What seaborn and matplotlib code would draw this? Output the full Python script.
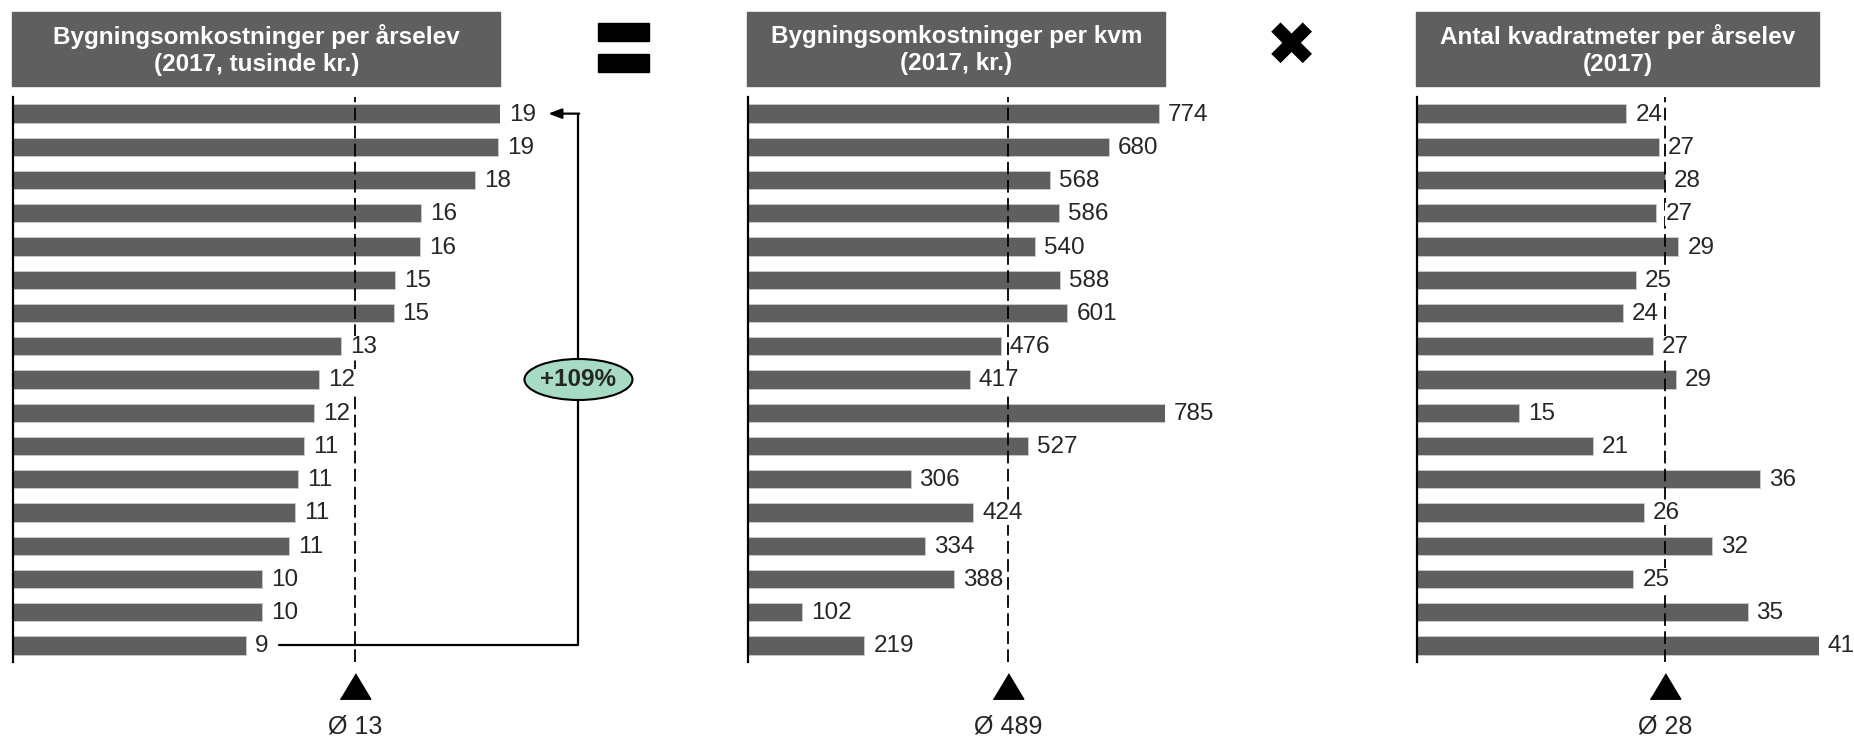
import numpy as np
import pandas as pd
import matplotlib
matplotlib.use("Agg")
import matplotlib.pyplot as plt
import matplotlib.transforms as mtransforms
from matplotlib.patches import Rectangle, Ellipse
import seaborn as sns

# schools, same order in all three panels (top to bottom)
cost_per_student = [18.62, 18.55, 17.67, 15.59, 15.55, 14.60, 14.55, 12.55, 11.70,
                    11.52, 11.12, 10.89, 10.80, 10.55, 9.53, 9.51, 8.90]   # tusinde kr.
cost_per_sqm = [774, 680, 568, 586, 540, 588, 601, 476, 417,
                785, 527, 306, 424, 334, 388, 102, 219]                   # kr.
sqm_per_student = [24.3, 27.1, 27.6, 26.9, 28.8, 25.1, 24.0, 26.6, 28.6,
                   15.0, 21.4, 35.9, 25.8, 31.7, 24.9, 34.8, 41.0]         # kvm
sqm_axis_start = 6.13

titles = ["Bygningsomkostninger per årselev\n(2017, tusinde kr.)",
          "Bygningsomkostninger per kvm\n(2017, kr.)",
          "Antal kvadratmeter per årselev\n(2017)"]

GREY = "#5f5f5f"
W, H = 1854, 738
AX_TOP, AX_BOT = 97, 662

sns.set_style("white")
plt.rcParams["font.family"] = ["Liberation Sans", "DejaVu Sans"]

fig = plt.figure(figsize=(W / 100, H / 100), dpi=100)


def box(x0, y0, x1, y1):
    # pixel box (origin top-left) -> figure fraction rect
    return [x0 / W, 1 - y1 / H, (x1 - x0) / W, (y1 - y0) / H]


panels = [
    (cost_per_student, titles[0], 13, 500, 0),
    (cost_per_sqm, titles[1], 748, 1165, 0),
    (sqm_per_student, titles[2], 1417, 1819, sqm_axis_start),
]
rank = [str(i) for i in range(len(cost_per_sqm))]
axes = []

for vals, title, x0, x1, xmin in panels:
    ax = fig.add_axes(box(x0, AX_TOP, x1, AX_BOT))
    df = pd.DataFrame({"rank": rank, "value": vals})
    sns.barplot(data=df, x="value", y="rank", orient="h", color=GREY, saturation=1,
                width=0.55, edgecolor="#c8c8c8", linewidth=0.7, ax=ax, zorder=2)
    ax.set_xlim(xmin, max(vals))
    ax.set_ylim(len(vals) - 0.5, -0.5)
    ax.set_xticks([])
    ax.set_yticks([])
    ax.set_xlabel("")
    ax.set_ylabel("")
    for s in ["top", "right", "bottom"]:
        ax.spines[s].set_visible(False)
    ax.spines["left"].set_color("black")
    ax.spines["left"].set_linewidth(1.6)
    ax.set_facecolor("none")

    # value labels
    lab_tr = mtransforms.offset_copy(ax.transData, fig=fig, x=9, y=-1, units="dots")
    for i, v in enumerate(vals):
        ax.text(v, i, f"{v:.0f}", transform=lab_tr, ha="left", va="center",
                fontsize=17.5, zorder=5, clip_on=False,
                bbox=dict(fc="white", ec="none", pad=0.5))

    # average line + marker
    m = np.mean(vals)
    ax.axvline(m, color="black", lw=1.3, ls=(0, (7, 3)), zorder=3)
    trans = mtransforms.blended_transform_factory(ax.transData, ax.transAxes)
    hgt = AX_BOT - AX_TOP
    ax.plot([m], [-24 / hgt], marker=[(-0.6, -0.5), (0.6, -0.5), (0, 0.5)], ms=22,
            color="black", transform=trans, clip_on=False)
    ax.text(m, -64 / hgt, f"Ø {m:.0f}", transform=trans, ha="center", va="center",
            fontsize=18)

    # title box
    fig.add_artist(Rectangle(((x0 - 1) / W, 1 - 86 / H), (x1 - x0 + 1) / W, 74 / H,
                             transform=fig.transFigure, color=GREY, zorder=1))
    fig.text((x0 + x1) / 2 / W, 1 - 50 / H, title, ha="center", va="center",
             color="white", fontsize=17.5, fontweight="bold", linespacing=1.25)
    axes.append(ax)

# spread bracket on the first panel: min -> max
ax = axes[0]
vals = np.array(cost_per_student)
imax, imin = int(np.argmax(vals)), int(np.argmin(vals))
bx = vals.max() + 3.0
ax.plot([vals.min() + 1.27, bx, bx], [imin, imin, imax], color="black", lw=1.6,
        clip_on=False, zorder=3)
ax.annotate("", xy=(vals.max() + 1.84, imax), xytext=(bx + 0.03, imax),
            arrowprops=dict(arrowstyle="-|>,head_length=0.8,head_width=0.3",
                            color="black", lw=1.6, shrinkA=0, shrinkB=0),
            annotation_clip=False, zorder=3)
ey = (imax + imin) / 2
ell_tr = fig.dpi_scale_trans + mtransforms.ScaledTranslation(bx, ey, ax.transData)
ax.add_patch(Ellipse((0, 0), 1.08, 0.41, transform=ell_tr, fc="#a7dbc4", ec="black",
                     lw=1.5, zorder=4, clip_on=False))
ax.text(bx, ey, f"+{(vals.max() / vals.min() - 1) * 100:.0f}%", ha="center",
        va="center", fontsize=17.5, fontweight="bold", zorder=5)

# operator signs between panels
for y0, y1 in [(23, 41), (54, 72)]:
    fig.add_artist(Rectangle((598 / W, 1 - y1 / H), 51 / W, (y1 - y0) / H,
                             transform=fig.transFigure, color="black"))
fig.text(1291 / W, 1 - 48 / H, "✖", ha="center", va="center", fontsize=44,
         family="DejaVu Sans", color="black")

fig.savefig("out.png", dpi=100)
